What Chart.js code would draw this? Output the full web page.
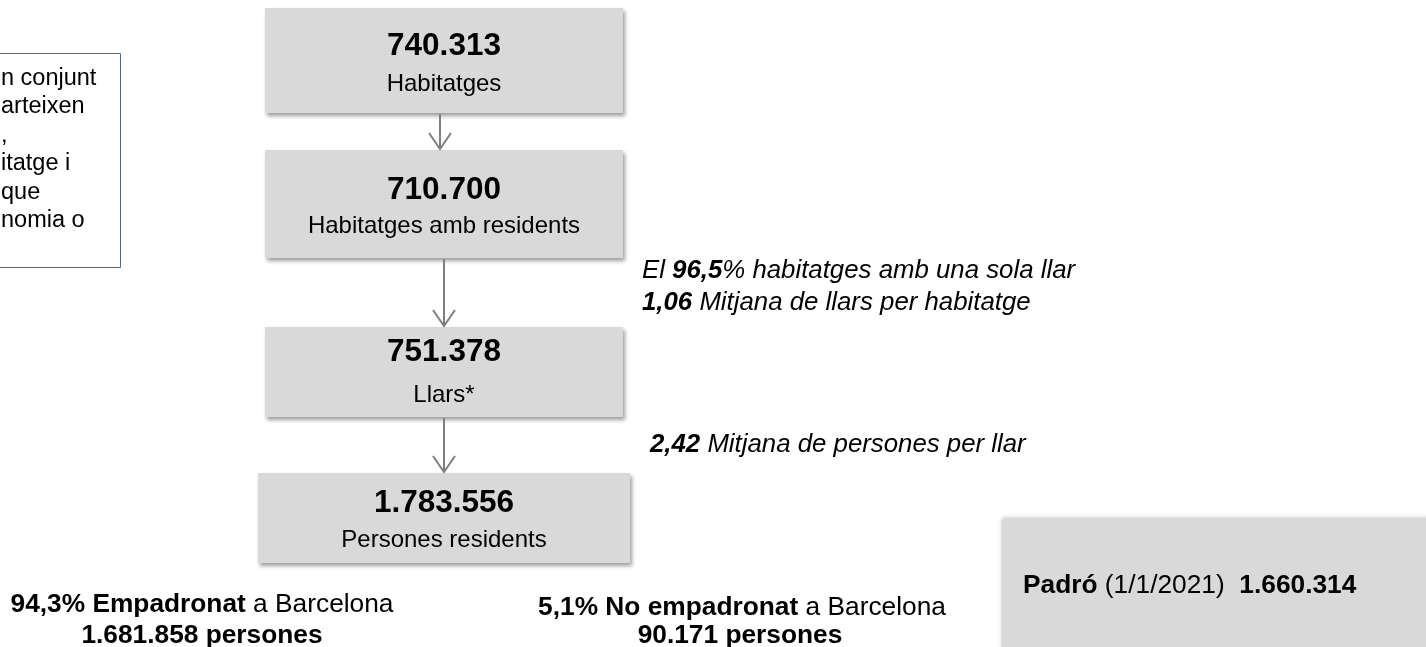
<!DOCTYPE html>
<html>
<head>
<meta charset="utf-8">
<script src="https://cdn.jsdelivr.net/npm/chart.js@4.4.0/dist/chart.umd.min.js"></script>
<style>
  html, body { margin: 0; padding: 0; background: #ffffff; }
  #wrap { width: 1426px; height: 647px; position: relative; }
</style>
</head>
<body>
<div id="wrap"><canvas id="c" width="1426" height="647"></canvas></div>
<script>
// ---------- DATA ----------
const nodeValues = ['740.313', '710.700', '751.378', '1.783.556'];
const nodeLabels = ['Habitatges', 'Habitatges amb residents', 'Llars*', 'Persones residents'];

// notes beside arrows: [text, bold]
const noteLine1 = [['El ', false], ['96,5', true], ['% habitatges amb una sola llar', false]];
const noteLine2 = [['1,06', true], [' Mitjana de llars per habitatge', false]];
const noteLine3 = [['2,42', true], [' Mitjana de persones per llar', false]];

const padroLabel = 'Padró';
const padroDate = ' (1/1/2021)  ';
const padroValue = '1.660.314';

const empadronatPct = '94,3%';
const empadronatPersons = '1.681.858';
const noEmpadronatPct = '5,1%';
const noEmpadronatPersons = '90.171';

const definitionFragments = ['n conjunt', 'arteixen', ',', 'itatge i', 'que', 'nomia o'];

// ---------- LAYOUT (pixel-space units mapped through the chart scales) ----------
const boxes = [
  { x0: 265, x1: 623, y0: 8,   y1: 113, vy: 55,  ly: 91 },
  { x0: 265, x1: 623, y0: 150, y1: 258, vy: 199, ly: 233 },
  { x0: 265, x1: 623, y0: 327, y1: 417, vy: 361, ly: 402 },
  { x0: 258, x1: 630, y0: 473, y1: 563, vy: 512, ly: 547 }
];
const arrows = [
  { x: 440, y0: 114, y1: 149 },
  { x: 444, y0: 259, y1: 326 },
  { x: 444, y0: 418, y1: 472 }
];
const FONT = '"Liberation Sans", Arial, Helvetica, sans-serif';

function drawRich(ctx, segs, x, y, size, align, italic) {
  let total = 0;
  const widths = segs.map(s => {
    ctx.font = (italic ? 'italic ' : '') + (s[1] ? 'bold ' : '') + size + 'px ' + FONT;
    const w = ctx.measureText(s[0]).width;
    total += w;
    return w;
  });
  let cx = align === 'center' ? x - total / 2 : x;
  ctx.textAlign = 'left';
  ctx.textBaseline = 'alphabetic';
  segs.forEach((s, i) => {
    ctx.font = (italic ? 'italic ' : '') + (s[1] ? 'bold ' : '') + size + 'px ' + FONT;
    ctx.fillText(s[0], cx, y);
    cx += widths[i];
  });
}

const diagramPlugin = {
  id: 'diagram',
  afterDraw(chart) {
    const ctx = chart.ctx;
    const sx = v => chart.scales.x.getPixelForValue(v);
    const sy = v => chart.scales.y.getPixelForValue(v);

    ctx.save();
    // definition box (cut off at left edge)
    ctx.strokeStyle = '#4f6b88';
    ctx.lineWidth = 1;
    ctx.beginPath();
    ctx.moveTo(sx(-5), sy(53.5));
    ctx.lineTo(sx(120.5), sy(53.5));
    ctx.lineTo(sx(120.5), sy(267.5));
    ctx.lineTo(sx(-5), sy(267.5));
    ctx.stroke();
    ctx.fillStyle = '#000000';
    ctx.font = '23.5px ' + FONT;
    ctx.textAlign = 'left';
    ctx.textBaseline = 'alphabetic';
    definitionFragments.forEach((t, i) => {
      ctx.fillText(t, sx(1), sy(85 + i * 28.4));
    });

    // boxes with shadow
    boxes.forEach((b, i) => {
      ctx.save();
      ctx.shadowColor = 'rgba(0,0,0,0.38)';
      ctx.shadowBlur = 4;
      ctx.shadowOffsetX = 2;
      ctx.shadowOffsetY = 3;
      ctx.fillStyle = '#d9d9d9';
      ctx.fillRect(sx(b.x0), sy(b.y0), sx(b.x1) - sx(b.x0), sy(b.y1) - sy(b.y0));
      ctx.restore();
      const cx = sx((b.x0 + b.x1) / 2);
      ctx.fillStyle = '#000000';
      ctx.textAlign = 'center';
      ctx.textBaseline = 'alphabetic';
      ctx.font = 'bold 31.5px ' + FONT;
      ctx.fillText(nodeValues[i], cx, sy(b.vy));
      ctx.font = '24px ' + FONT;
      ctx.fillText(nodeLabels[i], cx, sy(b.ly));
    });

    // arrows
    ctx.strokeStyle = '#7f7f7f';
    ctx.lineWidth = 2;
    ctx.lineCap = 'butt';
    arrows.forEach(a => {
      ctx.beginPath();
      ctx.moveTo(sx(a.x), sy(a.y0));
      ctx.lineTo(sx(a.x), sy(a.y1));
      ctx.stroke();
      ctx.beginPath();
      ctx.moveTo(sx(a.x - 11), sy(a.y1 - 16));
      ctx.lineTo(sx(a.x), sy(a.y1));
      ctx.lineTo(sx(a.x + 11), sy(a.y1 - 16));
      ctx.stroke();
    });

    // notes
    ctx.fillStyle = '#000000';
    drawRich(ctx, noteLine1, sx(642), sy(278), 25.8, 'left', true);
    drawRich(ctx, noteLine2, sx(642), sy(310), 25.8, 'left', true);
    drawRich(ctx, noteLine3, sx(650), sy(452), 25.8, 'left', true);

    // Padró box
    ctx.save();
    ctx.shadowColor = 'rgba(0,0,0,0.25)';
    ctx.shadowBlur = 4;
    ctx.shadowOffsetX = -1;
    ctx.shadowOffsetY = 0;
    ctx.fillStyle = '#d9d9d9';
    ctx.fillRect(sx(1003), sy(518), sx(1430) - sx(1003), sy(660) - sy(518));
    ctx.restore();
    ctx.fillStyle = '#000000';
    drawRich(ctx, [[padroLabel, true], [padroDate, false], [padroValue, true]], sx(1023), sy(593), 26.3, 'left', false);

    // bottom texts
    drawRich(ctx, [[empadronatPct + ' Empadronat', true], [' a Barcelona', false]], sx(202), sy(612), 26.3, 'center', false);
    drawRich(ctx, [[empadronatPersons + ' persones', true]], sx(202), sy(643), 26.3, 'center', false);
    drawRich(ctx, [[noEmpadronatPct + ' No empadronat', true], [' a Barcelona', false]], sx(742), sy(615), 26.3, 'center', false);
    drawRich(ctx, [[noEmpadronatPersons + ' persones', true]], sx(740), sy(643), 26.3, 'center', false);
    ctx.restore();
  }
};

new Chart(document.getElementById('c'), {
  type: 'scatter',
  data: { datasets: [{ data: [], pointRadius: 0 }] },
  options: {
    responsive: false,
    animation: false,
    devicePixelRatio: 1,
    layout: { padding: 0 },
    plugins: { legend: { display: false }, tooltip: { enabled: false }, title: { display: false } },
    scales: {
      x: { type: 'linear', min: 0, max: 1426, display: false },
      y: { type: 'linear', min: 0, max: 647, reverse: true, display: false }
    }
  },
  plugins: [diagramPlugin]
});
</script>
</body>
</html>
